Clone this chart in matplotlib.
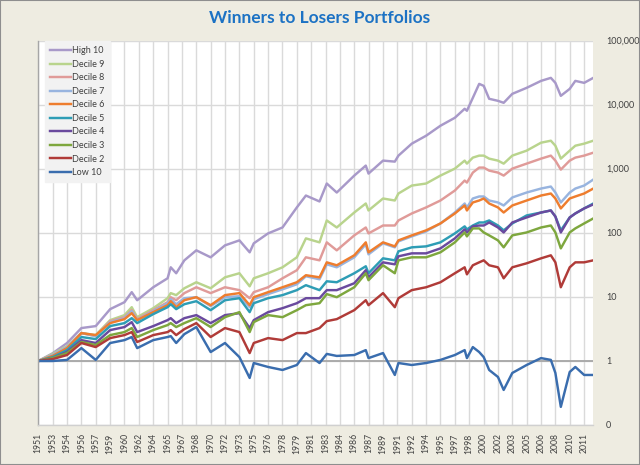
import matplotlib
matplotlib.use("Agg")
import matplotlib.pyplot as plt
from matplotlib.patches import Rectangle
from matplotlib.ticker import FixedLocator, FuncFormatter, NullLocator

# ---- data (decimal years, portfolio growth of $1) ----
years = [1951.5, 1953.08, 1954.67, 1956.25, 1957.83, 1959.42, 1961.0, 1961.8, 1962.4,
         1964.17, 1965.75, 1966.1, 1966.7, 1967.6, 1968.92, 1970.5, 1972.08, 1973.67,
         1974.8, 1975.25, 1976.83, 1978.42, 1980.0, 1981.0, 1982.5, 1983.3, 1984.4,
         1986.33, 1987.6, 1987.9, 1989.5, 1990.8, 1991.2, 1992.67, 1994.25, 1995.83,
         1997.42, 1998.5, 1998.75, 1999.4, 2000.1, 2000.6, 2001.2, 2002.17, 2002.8,
         2003.75, 2005.33, 2006.92, 2008.0, 2008.5, 2009.1, 2010.08, 2010.7, 2011.67,
         2012.68]

high10 = [1.0, 1.32, 1.91, 3.27, 3.51, 6.46, 8.3, 11.9, 8.9, 14.2, 19.6, 29.1, 23.5, 37.4,
          53.6, 41.7, 64.1, 76.7, 49.9, 68.9, 98.6, 122, 251, 385, 311, 593, 429, 789,
          1130, 848, 1352, 1304, 1618, 2488, 3311, 4742, 6318, 8730, 8128, 12940, 21380,
          19910, 12500, 11620, 10820, 14940, 18530, 23820, 26550, 22180, 13910, 17870,
          23820, 22180, 26550]
decile9 = [1.0, 1.29, 1.71, 2.73, 2.54, 4.35, 5.21, 6.93, 4.84, 6.69, 9.58, 11.5, 10.7, 13.7,
           17.0, 13.7, 20.3, 23.5, 14.7, 19.6, 23.5, 29.1, 41.7, 82.4, 71.4, 157, 122, 209,
           289, 225, 346, 322, 414, 551, 593, 789, 1014, 1352, 1213, 1506, 1618, 1618, 1452,
           1352, 1213, 1618, 1935, 2577, 2768, 2312, 1452, 1935, 2312, 2488, 2768]
decile8 = [1.0, 1.24, 1.65, 2.73, 2.45, 4.20, 4.84, 6.23, 4.51, 6.23, 8.30, 9.93, 8.91, 11.5,
           14.2, 11.5, 14.2, 12.8, 9.58, 11.9, 14.2, 19.6, 26.2, 41.7, 37.4, 71.4, 53.6, 91.8,
           122, 98.6, 131, 131, 157, 202, 251, 322, 461, 660, 614, 879, 1052, 1052, 944, 879,
           789, 1014, 1213, 1452, 1618, 1352, 979, 1352, 1506, 1618, 1799]
decile7 = [1.0, 1.24, 1.65, 2.73, 2.45, 4.05, 4.67, 6.01, 4.35, 6.01, 8.00, 9.24, 7.72, 9.58,
           9.93, 7.19, 9.93, 10.3, 6.93, 9.24, 11.1, 13.2, 15.8, 21.1, 18.9, 32.4, 29.1, 41.7,
           66.4, 46.4, 68.9, 59.7, 74.0, 88.5, 106, 141, 209, 289, 251, 346, 372, 372, 322,
           300, 269, 359, 429, 495, 532, 429, 300, 429, 495, 551, 684]
decile6 = [1.0, 1.20, 1.59, 2.73, 2.54, 3.91, 4.51, 5.59, 4.35, 5.80, 7.45, 8.60, 6.93, 8.91,
           9.93, 7.45, 10.7, 11.5, 7.45, 9.93, 11.9, 14.2, 17.0, 21.9, 20.3, 34.8, 31.3, 44.8,
           71.4, 49.9, 71.4, 61.8, 76.7, 91.8, 110, 141, 202, 269, 225, 300, 322, 346, 289,
           251, 209, 269, 322, 385, 414, 346, 242, 346, 372, 414, 495]
decile5 = [1.0, 1.15, 1.48, 2.37, 2.20, 3.51, 3.91, 4.67, 3.91, 5.40, 6.93, 7.72, 6.46, 7.72,
           8.60, 6.23, 8.91, 9.58, 5.80, 8.00, 9.58, 10.7, 12.8, 15.3, 12.8, 17.6, 17.0, 23.5,
           30.2, 23.5, 40.2, 37.4, 51.7, 59.7, 61.8, 71.4, 98.6, 127, 114, 131, 146, 146, 157,
           131, 110, 141, 188, 209, 225, 181, 110, 175, 202, 242, 289]
decile4 = [1.0, 1.11, 1.38, 2.12, 1.91, 3.04, 3.39, 4.05, 2.83, 3.51, 4.35, 4.67, 3.91, 4.67,
           5.21, 3.91, 5.21, 5.59, 3.27, 4.35, 5.80, 6.69, 8.00, 9.58, 9.58, 12.8, 12.8, 16.4,
           26.2, 20.3, 34.8, 32.4, 43.2, 48.1, 48.1, 57.5, 82.4, 114, 102, 127, 131, 131, 146,
           122, 102, 146, 175, 209, 225, 181, 102, 175, 202, 242, 280]
decile3 = [1.0, 1.11, 1.33, 1.98, 1.78, 2.54, 2.83, 3.27, 2.37, 3.04, 3.64, 3.91, 3.39, 3.91,
           4.67, 3.39, 4.84, 5.80, 2.83, 4.05, 5.21, 4.84, 6.23, 7.45, 8.00, 11.1, 9.93, 14.2,
           23.5, 18.3, 31.3, 23.5, 37.4, 41.7, 41.7, 49.9, 71.4, 102, 88.5, 118, 118, 102,
           91.8, 76.7, 59.7, 91.8, 102, 122, 131, 102, 57.5, 102, 118, 141, 169]
decile2 = [1.0, 1.07, 1.24, 1.91, 1.65, 2.28, 2.54, 2.83, 1.98, 2.54, 2.83, 3.04, 2.54, 3.15,
           3.91, 2.37, 3.27, 2.83, 1.33, 1.91, 2.28, 2.12, 2.73, 2.73, 3.27, 4.20, 4.51, 6.23,
           8.91, 7.45, 11.5, 6.93, 9.58, 12.8, 14.2, 17.0, 23.5, 29.1, 22.6, 31.3, 34.8, 37.4,
           31.3, 29.1, 19.6, 29.1, 33.6, 40.2, 44.8, 34.8, 14.2, 29.1, 34.8, 34.8, 37.4]
low10 = [1.0, 1.0, 1.04, 1.59, 1.04, 1.91, 2.12, 2.37, 1.59, 2.12, 2.37, 2.45, 1.91, 2.63,
         3.39, 1.38, 1.91, 1.15, 0.543, 0.93, 0.807, 0.724, 0.866, 1.33, 0.93, 1.29, 1.20, 1.24,
         1.48, 1.11, 1.33, 0.605, 0.93, 0.866, 0.93, 1.04, 1.24, 1.48, 1.11, 1.65, 1.38, 1.15,
         0.724, 0.563, 0.353, 0.650, 0.866, 1.11, 1.04, 0.650, 0.192, 0.674, 0.807, 0.605, 0.605]

series_names = ["High 10", "Decile 9", "Decile 8", "Decile 7", "Decile 6",
                "Decile 5", "Decile 4", "Decile 3", "Decile 2", "Low 10"]
series_values = [high10, decile9, decile8, decile7, decile6,
                 decile5, decile4, decile3, decile2, low10]
series_colors = ["#A899C9", "#B9D48D", "#E09B99", "#98B4DF", "#EE7D2E",
                 "#2E9DB5", "#6A4A9E", "#7EA73E", "#B03B38", "#3A6DAE"]

tick_labels = ["1951", "1953", "1954", "1956", "1957", "1959", "1960", "1962", "1964",
               "1965", "1967", "1968", "1970", "1972", "1973", "1975", "1976", "1978",
               "1979", "1981", "1983", "1984", "1986", "1987", "1989", "1991", "1992",
               "1994", "1995", "1997", "1998", "2000", "2002", "2003", "2005", "2006",
               "2008", "2010", "2011"]
x_start, x_end = 1951.5, 2012.68
tick_step = 19 / 12.0

y_ticks = [0.1, 1, 10, 100, 1000, 10000, 100000]

# ---- figure ----
BG = "#EEECE1"
fig = plt.figure(figsize=(6.4, 4.65), dpi=100, facecolor=BG)
ax = fig.add_axes([38.3 / 640, 1 - 425 / 465, (593.3 - 38.3) / 640, (425 - 41) / 465])
ax.set_facecolor("white")

for name, vals, col in zip(series_names, series_values, series_colors):
    ax.plot(years, vals, color=col, lw=1.75, label=name, solid_joinstyle="round")

ax.set_yscale("log")
ax.set_ylim(0.1, 100000)
ax.set_xlim(x_start, x_end)

xt = [x_start + i * tick_step for i in range(len(tick_labels))]
ax.xaxis.set_major_locator(FixedLocator(xt))
ax.set_xticklabels(tick_labels, rotation=90, fontsize=6.2, color="#404040",
                   family=["Lato", "DejaVu Sans"])
ax.tick_params(axis="x", length=0, pad=6)

ax.yaxis.tick_right()
ax.yaxis.set_major_locator(FixedLocator(y_ticks))
ax.yaxis.set_minor_locator(NullLocator())
ax.yaxis.set_major_formatter(FuncFormatter(lambda v, p: "0" if v < 0.5 else f"{int(round(v)):,}"))
ax.tick_params(axis="y", length=0, pad=9, labelsize=6.5, labelcolor="#404040")
for lab in ax.get_yticklabels():
    lab.set_family(["Lato", "DejaVu Sans"])
    lab.set_verticalalignment("center")

ax.grid(True, which="major", color="#DADADA", lw=1.0)
ax.set_axisbelow(True)
ax.axhline(1, color="#A6A6A6", lw=1.3, zorder=1.5)

for s in ["top", "right"]:
    ax.spines[s].set_visible(False)
ax.spines["left"].set_color("#A6A6A6")
ax.spines["left"].set_linewidth(1.0)
ax.spines["bottom"].set_color("#D0D0D0")
ax.spines["bottom"].set_linewidth(1.0)

leg = ax.legend(loc="upper left", bbox_to_anchor=((45 - 38.3) / 555, 1.0),
                borderaxespad=0, frameon=True, fancybox=False, framealpha=1,
                facecolor="#F2F2F2", edgecolor="#F2F2F2",
                prop={"family": ["Lato", "DejaVu Sans"], "size": 6.5},
                handlelength=2.3, handletextpad=0.1, labelspacing=0.5,
                borderpad=0.6)
for t in leg.get_texts():
    t.set_color("#404040")

fig.text(0.5, 1 - 18 / 465, "Winners to Losers Portfolios", ha="center", va="center",
         fontsize=12.5, fontweight="bold", color="#1C72C4", family=["Lato", "DejaVu Sans"])

fig.patches.append(Rectangle((0, 0), 1, 1, transform=fig.transFigure, fill=False,
                             edgecolor="#8E8E8E", lw=1.5))

fig.savefig("out.png", dpi=100, facecolor=BG)
